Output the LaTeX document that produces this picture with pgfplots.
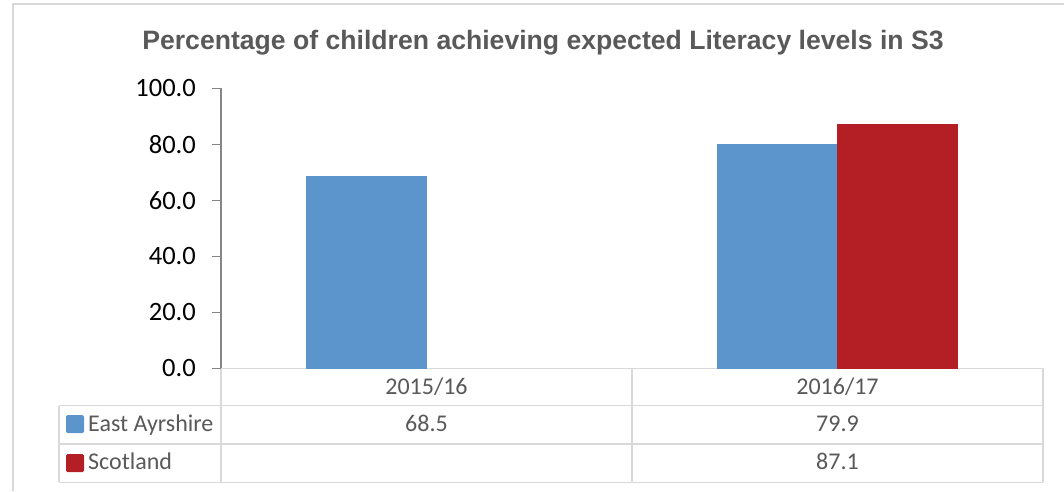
\documentclass[border=0pt]{standalone}
\usepackage{pgfplots}
\pgfplotsset{compat=1.18}
\usepackage{fontspec}
\setmainfont{Carlito}
\newfontfamily\titlefont{Liberation Sans}
\definecolor{eablue}{HTML}{5B95CB}
\definecolor{scred}{HTML}{B31F24}
\definecolor{gridgray}{HTML}{D9D9D9}
\definecolor{axisgray}{HTML}{868686}
\definecolor{txtgray}{HTML}{595959}

\begin{document}
\begin{tikzpicture}[x=1pt,y=1pt]
\useasboundingbox[fill=white] (0,0) rectangle (1064,491);
% chart frame
\draw[gridgray, line width=1.5pt] (13,0) -- (13,487) -- (1064,487);
\node[anchor=base, text=txtgray, inner sep=0pt,
      font=\titlefont\bfseries\fontsize{26.6}{30}\selectfont]
  at (543,441.7) {Percentage of children achieving expected Literacy levels in S3};

% data table grid
\begin{scope}[gridgray, line width=1.5pt]
  \draw (221,122.7) -- (1043,122.7);
  \draw (59,85.3) -- (1043,85.3);
  \draw (59,47) -- (1043,47);
  \draw (59,8.7) -- (1043,8.7);
  \draw (59,85.3) -- (59,8.7);
  \draw (221,122.7) -- (221,8.7);
  \draw (632,122.7) -- (632,8.7);
  \draw (1043,122.7) -- (1043,8.7);
\end{scope}

\begin{axis}[
    at={(221pt,122.7pt)}, anchor=south west,
    width=822pt, height=280pt, scale only axis,
    xmin=-0.5, xmax=1.5, ymin=0, ymax=100,
    ybar=0pt, bar width=0.292,
    axis x line=none, xtick=\empty,
    axis y line=left,
    y axis line style={-, draw=axisgray, line width=1.2pt},
    ytick={0,20,...,100},
    ytick style={draw=axisgray, line width=1.2pt},
    tick align=outside, major tick length=9pt,
    yticklabel style={
      font=\fontsize{26.5}{30}\selectfont, text=black,
      inner sep=0pt, anchor=east, xshift=-16pt,
      /pgf/number format/.cd, fixed, fixed zerofill, precision=1,
      assume math mode=true},
    clip=false,
  ]
  \addplot[fill=eablue, draw=eablue] coordinates {(0,68.5) (1,79.9)};
  \addplot[fill=scred, draw=scred] coordinates {(1,87.1)};
\end{axis}

% table text
\begin{scope}[every node/.style={inner sep=0pt, text=txtgray,
    font=\fontsize{24}{28}\selectfont}]
  \node[anchor=base] at (426.5,97) {2015/16};
  \node[anchor=base] at (837.5,97) {2016/17};
  \node[anchor=base] at (426.5,59.3) {68.5};
  \node[anchor=base] at (837.5,59.3) {79.9};
  \node[anchor=base] at (837.5,21.3) {87.1};
  \node[anchor=base west] at (88,60) {East Ayrshire};
  \node[anchor=base west] at (88,21.3) {Scotland};
\end{scope}
\fill[eablue, rounded corners=1.5pt] (66,58) rectangle (84,76);
\fill[scred, rounded corners=1.5pt] (66,19) rectangle (84,37);
\end{tikzpicture}
\end{document}
